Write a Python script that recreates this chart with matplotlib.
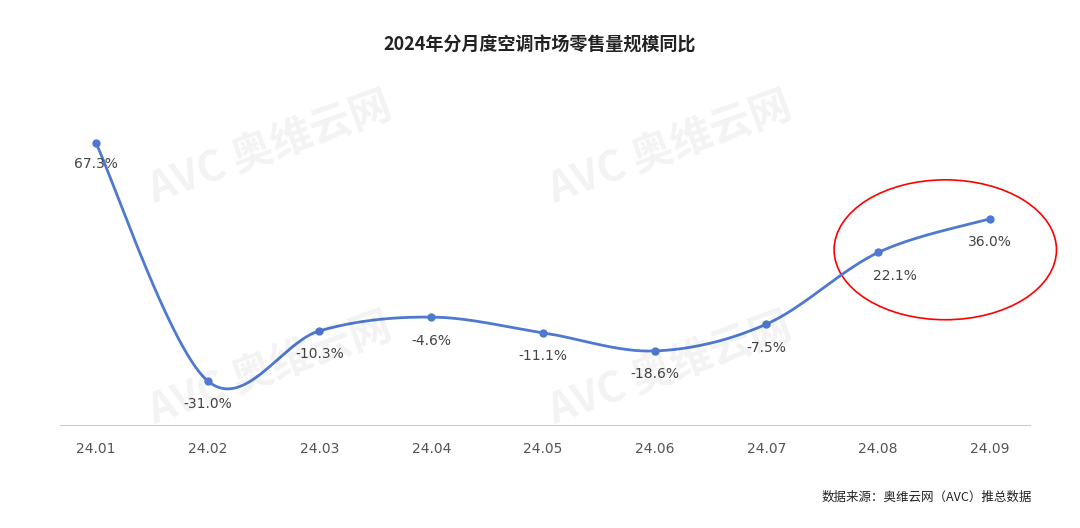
import numpy as np
import matplotlib.pyplot as plt
from matplotlib.patches import Ellipse

plt.rcParams['font.family'] = ['Noto Sans CJK SC', 'DejaVu Sans']

months = ["24.01", "24.02", "24.03", "24.04", "24.05", "24.06", "24.07", "24.08", "24.09"]
values = [67.3, -31.0, -10.3, -4.6, -11.1, -18.6, -7.5, 22.1, 36.0]
labels = ["67.3%", "-31.0%", "-10.3%", "-4.6%", "-11.1%", "-18.6%", "-7.5%", "22.1%", "36.0%"]

# smooth line via Catmull-Rom through the points
x = np.arange(len(values), dtype=float)
y = np.array(values)
px = np.concatenate([[x[0]], x, [x[-1]]])
py = np.concatenate([[y[0]], y, [y[-1]]])
sx, sy = [], []
for i in range(1, len(px) - 2):
    t = np.linspace(0, 1, 40)
    for arr, out in ((px, sx), (py, sy)):
        p0, p1, p2, p3 = arr[i - 1], arr[i], arr[i + 1], arr[i + 2]
        out.extend(0.5 * (2 * p1 + (-p0 + p2) * t + (2 * p0 - 5 * p1 + 4 * p2 - p3) * t**2
                          + (-p0 + 3 * p1 - 3 * p2 + p3) * t**3))

fig = plt.figure(figsize=(10.8, 5.28), dpi=100)
ax = fig.add_axes([60 / 1080, 1 - 425 / 528, 970 / 1080, 325 / 528])
ax.plot(sx, sy, color="#4f79d1", lw=2)
ax.plot(x, y, "o", color="#4f79d1", ms=5)
ax.set_xlim(-0.322, 8.358)
ax.set_ylim(-49.2, 85.1)

offsets = [(0, -12), (0, -14), (0, -14), (0, -14), (0, -14), (0, -14), (0, -14), (0.15, -14), (0.0, -14)]
for i, (lab, (dx, dy)) in enumerate(zip(labels, offsets)):
    ax.text(x[i] + dx, y[i] + dy * 0.55 - 2, lab, ha="center", va="center", fontsize=10, color="#444444",
            family=["DejaVu Sans"])

ax.add_patch(Ellipse((7.6, 23.2), 1.99, 57.8, fill=False, ec="red", lw=1.2, clip_on=False))

for s in ["top", "right", "left"]:
    ax.spines[s].set_visible(False)
ax.spines["bottom"].set_color("#cccccc")
ax.set_yticks([])
ax.set_xticks(x)
ax.set_xticklabels(months, fontsize=10, color="#555555", family=["DejaVu Sans"])
ax.tick_params(axis="x", length=0, pad=12)

for wx, wy in [(0.25, 0.72), (0.62, 0.72), (0.25, 0.3), (0.62, 0.3)]:
    fig.text(wx, wy, "AVC 奥维云网", fontsize=30, color="#000000", alpha=0.05, rotation=20,
             ha="center", va="center", fontweight="bold")

fig.text(0.5, 1 - 45 / 528, "2024年分月度空调市场零售量规模同比", ha="center", va="center",
         fontsize=13, fontweight="bold", color="#222222")
fig.text(0.955, 1 - 497 / 528, "数据来源：奥维云网（AVC）推总数据", ha="right", va="center",
         fontsize=9, color="#222222")

fig.savefig("out.png", dpi=100)
